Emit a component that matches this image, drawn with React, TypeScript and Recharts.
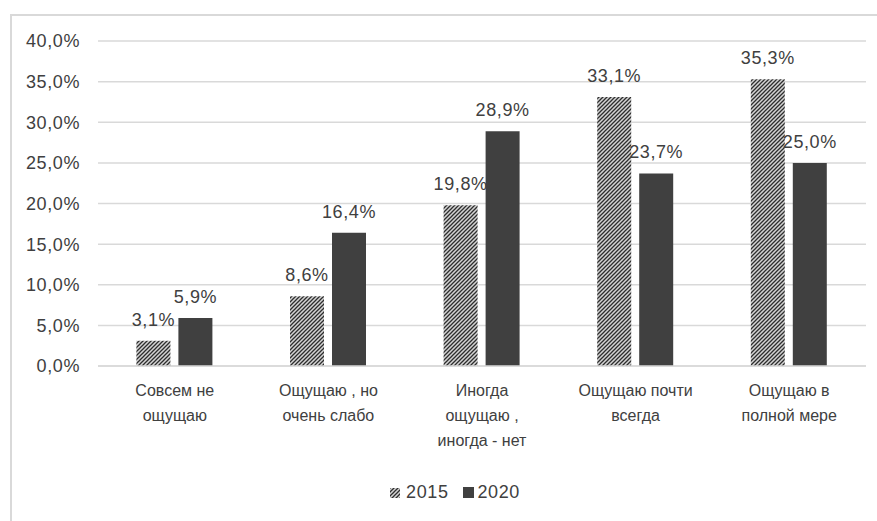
import { BarChart, Bar, XAxis, YAxis, CartesianGrid, LabelList } from "recharts";

const categories = [
  ["Совсем не", "ощущаю"],
  ["Ощущаю , но", "очень слабо"],
  ["Иногда", "ощущаю ,", "иногда - нет"],
  ["Ощущаю почти", "всегда"],
  ["Ощущаю в", "полной мере"],
];
const values2015 = [3.1, 8.6, 19.8, 33.1, 35.3];
const values2020 = [5.9, 16.4, 28.9, 23.7, 25.0];
const yTicks = [0, 5, 10, 15, 20, 25, 30, 35, 40];

const data = categories.map((c, i) => ({
  name: c.join(" "),
  y2015: values2015[i],
  y2020: values2020[i],
}));

const FONT = "'Liberation Sans', Arial, sans-serif";
const TEXT = "#404040";
const numStyle = { fontFamily: FONT, fontSize: 18, fill: TEXT, letterSpacing: 0.6 };

const fmt = (v: number) => v.toFixed(1).replace(".", ",") + "%";

function CategoryTick(props: any) {
  const { x, y, index } = props;
  const lines: string[] = categories[index] || [];
  return (
    <g>
      {lines.map((line, i) => (
        <text
          key={i}
          x={x}
          y={y + 22 + i * 25}
          textAnchor="middle"
          fontFamily={FONT}
          fontSize={16}
          fill={TEXT}
        >
          {line}
        </text>
      ))}
    </g>
  );
}

function ChartLegend() {
  return (
    <div
      style={{
        position: "absolute",
        top: 482,
        left: 0,
        width: 910,
        textAlign: "center",
        fontFamily: FONT,
        fontSize: 18,
        letterSpacing: 0.6,
        color: TEXT,
      }}
    >
      <svg width={10} height={10} style={{ marginRight: 6 }}>
        <rect width={10} height={10} fill="url(#hatch2015)" />
      </svg>
      <span style={{ marginRight: 14 }}>2015</span>
      <svg width={11} height={11} style={{ marginRight: 4 }}>
        <rect width={11} height={11} fill="#404040" />
      </svg>
      <span>2020</span>
    </div>
  );
}

export default function App() {
  return (
    <div style={{ position: "absolute", left: 0, top: 0, width: 877, height: 521, background: "#fff", overflow: "hidden" }}>
      <svg width={0} height={0} style={{ position: "absolute" }}>
        <defs>
          <pattern id="hatch2015" patternUnits="userSpaceOnUse" width={4} height={4}>
            <rect width={4} height={4} fill="#d4d4d4" />
            <path d="M-1,1 l2,-2 M0,4 l4,-4 M3,5 l2,-2" stroke="#2e2e2e" strokeWidth={1.3} />
          </pattern>
        </defs>
      </svg>
      <div
        style={{
          position: "absolute",
          left: 10,
          top: 14,
          width: 900,
          height: 600,
          borderLeft: "2px solid #d9d9d9",
          borderTop: "2px solid #d9d9d9",
        }}
      />
      <div style={{ position: "absolute", left: 0, top: 0 }}>
        <BarChart
          width={877}
          height={521}
          data={data}
          margin={{ top: 41, right: 11, bottom: 125, left: 0 }}
          barCategoryGap="25%"
          barGap={8}
        >
          <CartesianGrid vertical={false} stroke="#d9d9d9" strokeWidth={1.5} />
          <YAxis
            width={98}
            domain={[0, 40]}
            ticks={yTicks}
            tickFormatter={fmt}
            axisLine={false}
            tickLine={false}
            tickSize={0}
            tickMargin={18}
            tick={numStyle}
          />
          <XAxis
            dataKey="name"
            height={30}
            axisLine={{ stroke: "#d9d9d9", strokeWidth: 1.5 }}
            tickLine={false}
            tick={<CategoryTick />}
            interval={0}
          />
          <Bar dataKey="y2015" fill="url(#hatch2015)" isAnimationActive={false}>
            <LabelList
              dataKey="y2015"
              position="top"
              offset={15}
              formatter={(v: any) => fmt(Number(v))}
              style={numStyle}
            />
          </Bar>
          <Bar dataKey="y2020" fill="#404040" isAnimationActive={false}>
            <LabelList
              dataKey="y2020"
              position="top"
              offset={15}
              formatter={(v: any) => fmt(Number(v))}
              style={numStyle}
            />
          </Bar>
        </BarChart>
      </div>
      <ChartLegend />
    </div>
  );
}
